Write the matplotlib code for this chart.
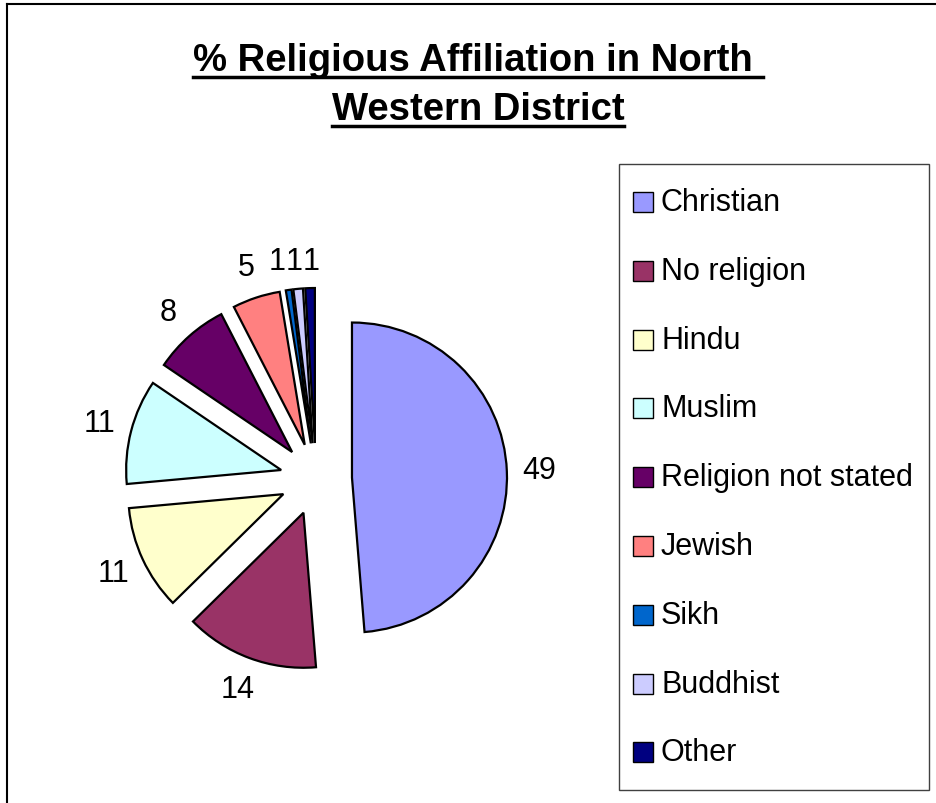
import matplotlib
matplotlib.use("Agg")
import matplotlib.pyplot as plt
import numpy as np
from matplotlib.lines import Line2D
from matplotlib.patches import Rectangle

plt.rcParams['font.family'] = ['Liberation Sans', 'DejaVu Sans']

# data
religions = ["Christian", "No religion", "Hindu", "Muslim", "Religion not stated",
             "Jewish", "Sikh", "Buddhist", "Other"]
percent = [49, 14, 11, 11, 8, 5, 0.6, 1, 1]
colours = ["#9999FF", "#993366", "#FFFFCC", "#CCFFFF", "#660066",
           "#FF8080", "#0066CC", "#CCCCFF", "#000080"]
title_lines = ["% Religious Affiliation in North ", "Western District"]

W, H = 936, 804
fig = plt.figure(figsize=(W / 100, H / 100), dpi=100)
ax = fig.add_axes([0, 0, 1, 1])

# explode is in data units (pixels here)
wedges, _ = ax.pie(percent, colors=colours, startangle=90, counterclock=False,
                   center=(316, H - 480), radius=155, explode=[36] * len(percent),
                   wedgeprops=dict(edgecolor="black", linewidth=1.6))
ax.set_xlim(0, W)
ax.set_ylim(0, H)
ax.set_aspect("auto")
ax.axis("off")

# value labels outside each wedge
for i, w in enumerate(wedges):
    mid = np.deg2rad((w.theta1 + w.theta2) / 2)
    cx, cy = w.center
    d = 155 * 1.21
    x, y = cx + d * np.cos(mid), cy + d * np.sin(mid)
    if i >= 6:
        # the three tiny slices: labels side by side like Excel does
        x, y = 294 + (i - 7) * 17, H - 262
    ax.text(x, y, f"{percent[i]:.0f}", ha="center", va="center", fontsize=22)

# title with underline
baselines = [H - 71, H - 120]
for line, yb in zip(title_lines, baselines):
    t = ax.text(478, yb, line, ha="center", va="baseline", fontsize=27.5,
                fontweight="bold")
    fig.canvas.draw()
    bb = t.get_window_extent()
    ax.add_line(Line2D([bb.x0, bb.x1], [yb - 7, yb - 7], color="black", linewidth=2.5))

# legend box
ax.add_patch(Rectangle((619, H - 791), 310, 626, facecolor="white",
                       edgecolor="#404040", linewidth=1))
for i, name in enumerate(religions):
    yc = H - (203 + i * 68.8)
    ax.add_patch(Rectangle((633, yc - 10), 20, 20, facecolor=colours[i],
                           edgecolor="black", linewidth=1))
    ax.text(661, yc, name, ha="left", va="center", fontsize=22)

# outer chart border (top and left edges)
ax.add_line(Line2D([7, W], [H - 5, H - 5], color="black", linewidth=1.5))
ax.add_line(Line2D([7, 7], [0, H - 5], color="black", linewidth=1.5))

fig.savefig("out.png", dpi=100)
